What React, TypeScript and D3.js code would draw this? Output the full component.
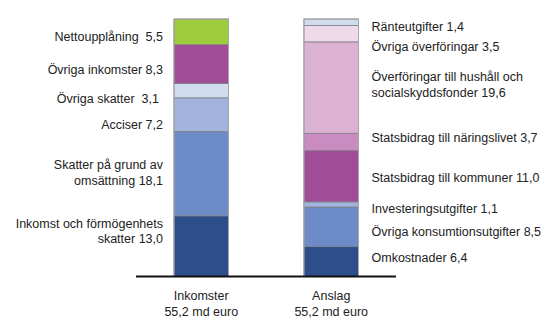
import React from "react";
import * as d3 from "d3";

const incomeLabels = [
  ["Inkomst och förmögenhets", "skatter 13,0"],
  ["Skatter på grund av", "omsättning 18,1"],
  ["Acciser 7,2"],
  ["Övriga skatter  3,1"],
  ["Övriga inkomster 8,3"],
  ["Nettoupplåning  5,5"],
];
const incomeValues = [13.0, 18.1, 7.2, 3.1, 8.3, 5.5];
const incomeColors = ["#2E4D8B", "#6C8BC7", "#A2B4DE", "#D0DBEE", "#A04C97", "#9CCB3B"];
const incomeNudge = [-15, -1, 9.5, 8, 6, 5];
const incomeDx = [0, 0, 0, -4, 0, 0];

const spendLabels = [
  ["Omkostnader 6,4"],
  ["Övriga konsumtionsutgifter 8,5"],
  ["Investeringsutgifter 1,1"],
  ["Statsbidrag till kommuner 11,0"],
  ["Statsbidrag till näringslivet 3,7"],
  ["Överföringar till hushåll och", "socialskyddsfonder 19,6"],
  ["Övriga överföringar 3,5"],
  ["Ränteutgifter 1,4"],
];
const spendValues = [6.4, 8.5, 1.1, 11.0, 3.7, 19.6, 3.5, 1.4];
const spendColors = ["#2E4D8B", "#6C8BC7", "#A2B4DE", "#A04C97", "#C98BC0", "#DBB1D4", "#F0DAEA", "#D0DBEE"];
const spendNudge = [-4, 5, 4.5, 1, -4.5, -3, 13, 4.5];

const categories = ["Inkomster", "Anslag"];
const totals = ["55,2 md euro", "55,2 md euro"];

const W = 542;
const H = 318;
const FONT = "'Liberation Sans', Arial, sans-serif";
const FS = 12.5;

function stack(values: number[]) {
  let acc = 0;
  return values.map((v) => {
    const s = acc;
    acc += v;
    return [s, acc];
  });
}

export default function App() {
  const y = d3.scaleLinear().domain([0, 55.2]).range([276.5, 19]);
  const x = d3.scaleBand().domain(categories).range([109, 423.5]).paddingInner(0.58).paddingOuter(0.5);
  const bw = x.bandwidth();
  const inc = stack(incomeValues);
  const spd = stack(spendValues);
  const x0 = x(categories[0])!;
  const x1 = x(categories[1])!;

  const renderLabel = (lines: string[], cy: number, tx: number, anchor: string, key: string) => (
    <text key={key} x={tx} y={cy} textAnchor={anchor} fontSize={FS} fontFamily={FONT} fill="#222">
      {lines.map((l, j) => (
        <tspan key={j} x={tx} y={cy + (j - (lines.length - 1) / 2) * 15.5} dy="0.35em" style={{ whiteSpace: "pre" }}>
          {l}
        </tspan>
      ))}
    </text>
  );

  return (
    <svg width={W} height={H} style={{ position: "absolute", left: 0, top: 0, background: "#fff" }}>
      {inc.map(([a, b], i) => (
        <rect key={"i" + i} x={x0} y={y(b)} width={bw} height={y(a) - y(b)} fill={incomeColors[i]} stroke="#7f7f86" strokeWidth={0.8} />
      ))}
      {spd.map(([a, b], i) => (
        <rect key={"s" + i} x={x1} y={y(b)} width={bw} height={y(a) - y(b)} fill={spendColors[i]} stroke="#7f7f86" strokeWidth={0.8} />
      ))}
      <rect x={x0} y={y(55.2)} width={bw} height={y(0) - y(55.2)} fill="none" stroke="#aaaaaa" strokeWidth={1} />
      <rect x={x1} y={y(55.2)} width={bw} height={y(0) - y(55.2)} fill="none" stroke="#aaaaaa" strokeWidth={1} />
      <line x1={136} x2={396} y1={y(0)} y2={y(0)} stroke="#111" strokeWidth={2} />
      {inc.map(([a, b], i) =>
        renderLabel(incomeLabels[i], (y(a) + y(b)) / 2 + incomeNudge[i], x0 - 11 + incomeDx[i], "end", "il" + i)
      )}
      {spd.map(([a, b], i) =>
        renderLabel(spendLabels[i], (y(a) + y(b)) / 2 + spendNudge[i], x1 + bw + 13, "start", "sl" + i)
      )}
      {categories.map((c, i) => (
        <text key={c} x={x(c)! + bw / 2} y={296} textAnchor="middle" fontSize={FS} fontFamily={FONT} fill="#222">
          <tspan x={x(c)! + bw / 2} dy="0.35em">{c}</tspan>
          <tspan x={x(c)! + bw / 2} dy="15.5">{totals[i]}</tspan>
        </text>
      ))}
    </svg>
  );
}
